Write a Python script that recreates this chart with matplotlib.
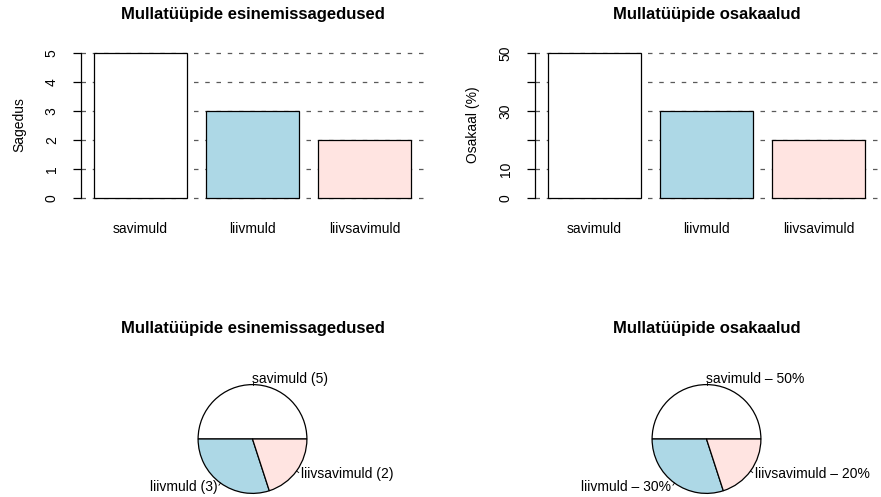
import numpy as np
import matplotlib
matplotlib.use("Agg")
import matplotlib.pyplot as plt

plt.rcParams['font.family'] = ['Liberation Sans', 'DejaVu Sans']
plt.rcParams['font.size'] = 10

# andmed
mullad = ['savimuld', 'liivmuld', 'liivsavimuld']
sagedus = [5, 3, 2]
osakaal = [50, 30, 20]
varvid = ['white', 'lightblue', 'mistyrose']

W, H = 881, 497
fig = plt.figure(figsize=(W / 100, H / 100), dpi=100)

def kast(x0, y0, x1, y1):
    # piksli kast -> joonise murdosad
    return [x0 / W, 1 - y1 / H, (x1 - x0) / W, (y1 - y0) / H]

def tulp(x0, vaartused, yticks, ylabels, ylab, pealkiri):
    ax = fig.add_axes(kast(x0, 47.5, x0 + 343, 204))
    top = max(yticks)
    ax.set_xlim(0.06, 3.74)
    ax.set_ylim(-0.04 * top, 1.04 * top)
    for t in yticks:
        ax.axhline(t, color='#5a5a5a', lw=0.9, linestyle=(0, (3.6, 5.4)), zorder=1)
    pos = [0.7 + 1.2 * i for i in range(len(vaartused))]
    ax.bar(pos, vaartused, width=1.0, color=varvid, edgecolor='black', linewidth=0.9, zorder=2)
    for s in ['top', 'right', 'bottom']:
        ax.spines[s].set_visible(False)
    ax.spines['left'].set_bounds(0, top)
    ax.spines['left'].set_linewidth(0.9)
    ax.set_yticks(yticks)
    ax.set_yticklabels(ylabels, rotation=90, va='center')
    ax.tick_params(axis='y', length=6, width=0.9, pad=10, labelsize=10)
    ax.set_xticks(pos)
    ax.set_xticklabels(mullad)
    ax.tick_params(axis='x', length=0, pad=13, labelsize=10)
    fig.text((x0 - 62) / W, 1 - 125 / H, ylab, rotation=90, ha='center', va='center', fontsize=10)
    fig.text((x0 + 171.5) / W, 1 - 14 / H, pealkiri, ha='center', va='center',
             fontsize=12, fontweight='bold')
    return ax

tulp(81, sagedus, [0, 1, 2, 3, 4, 5], ['0', '1', '2', '3', '4', '5'],
     'Sagedus', 'Mullatüüpide esinemissagedused')
tulp(535, osakaal, [0, 10, 20, 30, 40, 50], ['0', '10', '', '30', '', '50'],
     'Osakaal (%)', 'Mullatüüpide osakaalud')

def pirukas(cx, vaartused, sildid, pealkiri):
    cy, r = 439, 68
    ax = fig.add_axes(kast(cx - r, cy - r, cx + r, cy + r))
    _, tekstid = ax.pie(vaartused, labels=sildid, colors=varvid, radius=0.8, startangle=0,
                        counterclock=True, labeldistance=1.1,
                        wedgeprops=dict(edgecolor='black', linewidth=0.9),
                        textprops=dict(fontsize=10))
    # väikesed kriipsud siltide juurde, joondus nagu R-is
    osa = np.cumsum([0] + list(vaartused)) / sum(vaartused)
    for i in range(len(vaartused)):
        nurk = 2 * np.pi * (osa[i] + osa[i + 1]) / 2
        c, s = np.cos(nurk), np.sin(nurk)
        ax.plot([0.8 * c, 0.84 * c], [0.8 * s, 0.84 * s], color='black', lw=0.6, clip_on=False)
        tekstid[i].set_ha('right' if c < -1e-9 else 'left')
    ax.set_xlim(-1, 1)
    ax.set_ylim(-1, 1)
    ax.set_aspect('equal')
    ax.axis('off')
    fig.text(cx / W, 1 - 328 / H, pealkiri, ha='center', va='center',
             fontsize=12, fontweight='bold')

pirukas(252.5, sagedus, [f'{m} ({s})' for m, s in zip(mullad, sagedus)],
        'Mullatüüpide esinemissagedused')
pirukas(706.5, osakaal, [f'{m} \u2013 {p}%' for m, p in zip(mullad, osakaal)],
        'Mullatüüpide osakaalud')

fig.savefig('out.png', dpi=100)
